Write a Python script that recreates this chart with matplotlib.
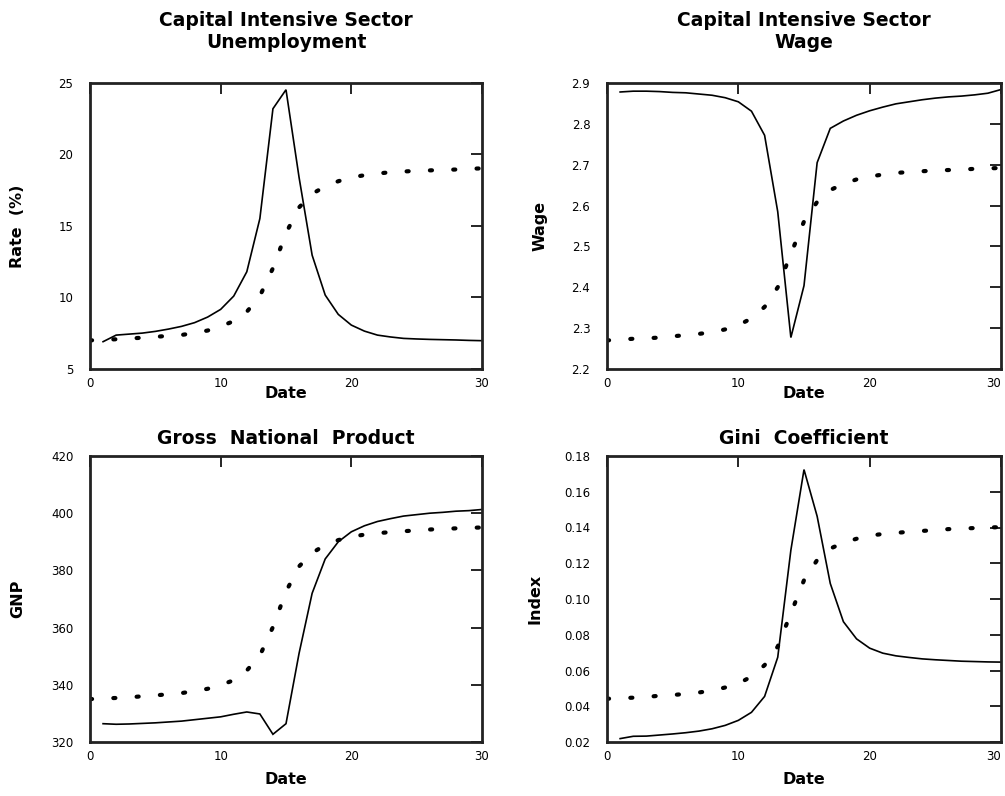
import matplotlib
matplotlib.use("Agg")
import matplotlib.pyplot as plt
import numpy as np

dates_solid = list(range(1, 31))
dates_dotted = list(range(0, 31))

unemp_solid = [6.91, 7.37, 7.44, 7.51, 7.63, 7.79, 7.98, 8.24, 8.63, 9.17,
               10.1, 11.8, 15.52, 23.2, 24.53, 18.4, 12.96, 10.17, 8.82, 8.07,
               7.65, 7.37, 7.24, 7.14, 7.1, 7.07, 7.05, 7.03, 7.0, 6.98]
unemp_dotted = [7.0, 7.04, 7.08, 7.13, 7.19, 7.25, 7.32, 7.38, 7.52, 7.69,
                7.98, 8.35, 9.0, 10.1, 12.05, 14.5, 16.3, 17.25, 17.77, 18.13,
                18.4, 18.55, 18.67, 18.76, 18.81, 18.86, 18.89, 18.92, 18.95, 19.0, 19.03]

wage_solid = [2.878, 2.880, 2.880, 2.879, 2.877, 2.876, 2.873, 2.870, 2.864, 2.854,
              2.831, 2.772, 2.585, 2.277, 2.404, 2.705, 2.789, 2.807, 2.821, 2.832,
              2.841, 2.849, 2.854, 2.859, 2.863, 2.866, 2.868, 2.871, 2.875, 2.884]
wage_dotted = [2.270, 2.272, 2.274, 2.275, 2.277, 2.280, 2.283, 2.286, 2.290, 2.297,
               2.307, 2.324, 2.352, 2.400, 2.482, 2.561, 2.609, 2.638, 2.653, 2.664,
               2.671, 2.676, 2.680, 2.682, 2.684, 2.686, 2.687, 2.688, 2.690, 2.691, 2.692]

gnp_solid = [326.4, 326.2, 326.3, 326.5, 326.7, 327.0, 327.3, 327.8, 328.3, 328.8,
             329.7, 330.5, 329.8, 322.7, 326.4, 351.0, 372.0, 384.0, 390.0, 393.5,
             395.6, 397.1, 398.1, 399.0, 399.5, 400.0, 400.3, 400.7, 400.9, 401.3]
gnp_dotted = [335.0, 335.2, 335.4, 335.6, 336.0, 336.3, 336.7, 337.1, 337.8, 338.6,
              339.9, 341.6, 345.0, 350.2, 360.2, 372.6, 381.4, 386.1, 388.9, 390.6,
              391.8, 392.5, 393.0, 393.4, 393.7, 394.0, 394.3, 394.5, 394.7, 394.9, 395.0]

gini_solid = [0.0219, 0.0232, 0.0233, 0.0239, 0.0245, 0.0252, 0.0261, 0.0274, 0.0293, 0.0321,
              0.0366, 0.0455, 0.0674, 0.1273, 0.1724, 0.1463, 0.1087, 0.0873, 0.0777, 0.0725,
              0.0697, 0.0682, 0.0673, 0.0665, 0.0660, 0.0656, 0.0652, 0.0650, 0.0648, 0.0647]
gini_dotted = [0.0442, 0.0445, 0.0448, 0.0452, 0.0459, 0.0463, 0.0469, 0.0477, 0.0488, 0.0505,
               0.0527, 0.0566, 0.0630, 0.0734, 0.0920, 0.1105, 0.1218, 0.1282, 0.1315, 0.1337,
               0.1354, 0.1364, 0.1370, 0.1376, 0.1381, 0.1385, 0.1391, 0.1394, 0.1397, 0.1400, 0.1402]

x_ticks = [0, 10, 20, 30]
x_ticklabels = ["0", "10", "20", "30"]

panels = [
    dict(title="Capital Intensive Sector\nUnemployment", ylabel="Rate  (%)",
         solid=unemp_solid, dotted=unemp_dotted, ylim=(5, 25),
         yticks=[5, 10, 15, 20, 25], ylabels=["5", "10", "15", "20", "25"]),
    dict(title="Capital Intensive Sector\nWage", ylabel="Wage",
         solid=wage_solid, dotted=wage_dotted, ylim=(2.2, 2.9),
         yticks=[2.2, 2.3, 2.4, 2.5, 2.6, 2.7, 2.8, 2.9],
         ylabels=["2.2", "2.3", "2.4", "2.5", "2.6", "2.7", "2.8", "2.9"]),
    dict(title="Gross  National  Product", ylabel="GNP",
         solid=gnp_solid, dotted=gnp_dotted, ylim=(320, 420),
         yticks=[320, 340, 360, 380, 400, 420],
         ylabels=["320", "340", "360", "380", "400", "420"]),
    dict(title="Gini  Coefficient", ylabel="Index",
         solid=gini_solid, dotted=gini_dotted, ylim=(0.02, 0.18),
         yticks=[0.02, 0.04, 0.06, 0.08, 0.10, 0.12, 0.14, 0.16, 0.18],
         ylabels=["0.02", "0.04", "0.06", "0.08", "0.10", "0.12", "0.14", "0.16", "0.18"]),
]

W, H = 1005, 796
fig = plt.figure(figsize=(W / 100, H / 100), dpi=100)

boxes = [(90, 83, 482, 369), (607, 83, 1001, 369),
         (90, 456, 482, 742), (607, 456, 1001, 742)]
ylabel_x = [18, 540, 18, 535]
xlabel_y = [393, 393, 780, 780]
title_y = [[20, 42], [20, 42], [438], [438]]
right_col = [False, True, False, True]

for p, (l, t, r, b), yx, xy, ty, rc in zip(panels, boxes, ylabel_x, xlabel_y, title_y, right_col):
    ax = fig.add_axes([l / W, 1 - b / H, (r - l) / W, (b - t) / H])
    ax.plot(dates_solid, p["solid"], color="black", lw=1.2, solid_joinstyle="miter")
    ax.plot(dates_dotted, p["dotted"], color="black", lw=3.0,
            linestyle=(0, (0.5, 5.1)), dash_capstyle="round")
    ax.set_xlim(0, 30)
    ax.set_ylim(*p["ylim"])
    ax.set_xticks(x_ticks)
    ax.set_xticklabels(x_ticklabels)
    ax.set_yticks(p["yticks"])
    ax.set_yticklabels(p["ylabels"])
    ax.tick_params(direction="in", length=8, width=1.2, top=True, right=True,
                   left=False, bottom=False, labelsize=8.5)
    ax.tick_params(axis="y", pad=12)
    ax.tick_params(axis="x", pad=6)
    if rc:
        ax.get_xticklabels()[-1].set_horizontalalignment("right")
    for s in ax.spines.values():
        s.set_linewidth(2)
        s.set_color("#222222")
    cx = (l + r) / 2
    lines = p["title"].split("\n")
    for line, yy in zip(lines, ty):
        fig.text(cx / W, 1 - yy / H, line, ha="center", va="center",
                 fontsize=13.5, fontweight="bold", family="DejaVu Sans")
    fig.text(yx / W, 1 - ((t + b) / 2) / H, p["ylabel"], rotation=90,
             ha="center", va="center", fontsize=11.5, fontweight="bold")
    fig.text(cx / W, 1 - xy / H, "Date", ha="center", va="center",
             fontsize=11.5, fontweight="bold")

fig.savefig("out.png", dpi=100)
